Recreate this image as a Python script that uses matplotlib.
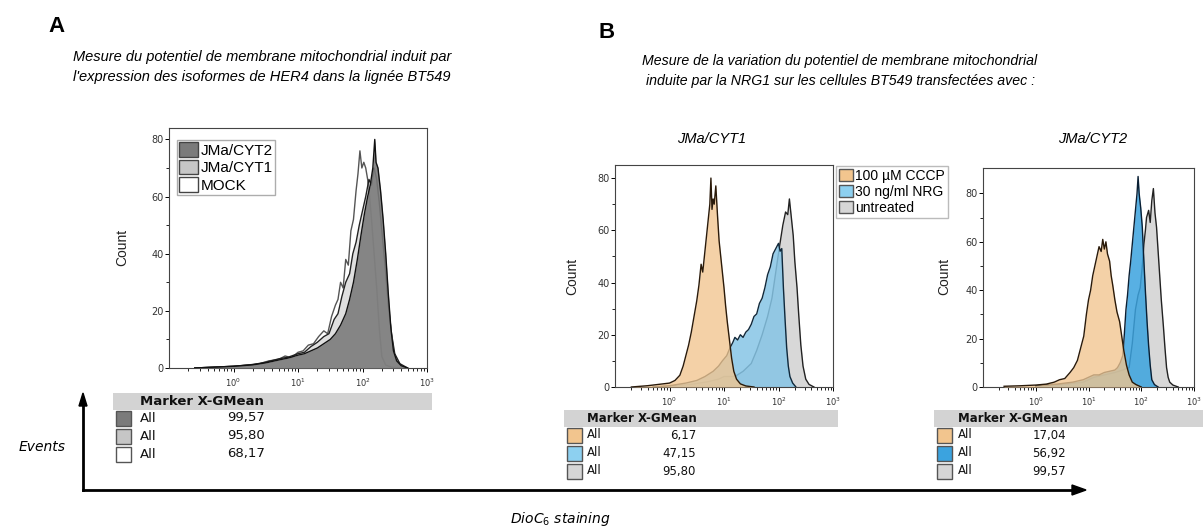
import numpy as np
import matplotlib.pyplot as plt
from matplotlib.patches import Patch, Rectangle
from matplotlib.ticker import LogLocator, NullFormatter

W, H = 1203, 530

# ---- panel A : log10(DioC6) positions and counts ----
mock_lx = [-0.6, -0.3, 0.0, 0.2, 0.4, 0.55, 0.7, 0.8, 0.9, 1.0, 1.08, 1.16, 1.24, 1.32, 1.4,
           1.46, 1.52, 1.58, 1.62, 1.66, 1.7, 1.74, 1.78, 1.82, 1.86, 1.9, 1.93, 1.96, 1.99, 2.02,
           2.05, 2.08, 2.11, 2.14, 2.18, 2.22, 2.26, 2.3, 2.36, 2.45, 2.6]
mock_n = [0, 0.3, 0.6, 1.0, 1.5, 2.5, 3.0, 4.2, 3.6, 5.5, 6.0, 8.0, 8.5, 11, 13,
          12, 18, 22, 24, 30, 28, 38, 36, 48, 52, 62, 68, 76, 70, 72,
          70, 66, 60, 52, 40, 28, 14, 4, 1, 0.3, 0]
cyt1_lx = [-0.6, -0.3, 0.0, 0.3, 0.5, 0.7, 0.85, 1.0, 1.1, 1.2, 1.3, 1.4, 1.48, 1.56, 1.62,
           1.68, 1.74, 1.8, 1.85, 1.9, 1.95, 2.0, 2.05, 2.1, 2.14, 2.18, 2.22, 2.26, 2.3, 2.35,
           2.4, 2.45, 2.5, 2.58, 2.7]
cyt1_n = [0, 0.3, 0.6, 1.2, 2.0, 3.2, 3.8, 5.0, 5.5, 7.5, 9, 11, 12, 17, 19,
          25, 30, 33, 40, 44, 50, 55, 60, 66, 64, 70, 66, 58, 48, 36,
          22, 12, 5, 1.5, 0]
cyt2_lx = [-0.6, -0.3, 0.0, 0.3, 0.5, 0.7, 0.85, 1.0, 1.1, 1.2, 1.3, 1.4, 1.5, 1.58, 1.66,
           1.74, 1.8, 1.86, 1.92, 1.98, 2.03, 2.08, 2.12, 2.16, 2.19, 2.21, 2.24, 2.28, 2.32, 2.36,
           2.4, 2.44, 2.48, 2.53, 2.6, 2.7]
cyt2_n = [0, 0.3, 0.6, 1.1, 1.8, 2.8, 3.5, 4.5, 5.0, 6.0, 7.0, 8.5, 10, 12, 15,
          19, 24, 30, 38, 47, 54, 60, 64, 70, 80, 72, 70, 62, 52, 40,
          26, 14, 6, 2.5, 0.8, 0]
labels_A = ['JMa/CYT2', 'JMa/CYT1', 'MOCK']
gmean_A = [99.57, 95.80, 68.17]

# ---- panel B, JMa/CYT1 ----
b1_cccp_lx = [-0.7, -0.4, -0.2, 0.0, 0.1, 0.19, 0.25, 0.3, 0.35, 0.4, 0.45, 0.5, 0.54, 0.58, 0.61,
              0.65, 0.68, 0.71, 0.74, 0.76, 0.78, 0.8, 0.82, 0.85, 0.88, 0.91, 0.94, 0.97, 1.0, 1.03,
              1.06, 1.1, 1.14, 1.18, 1.23, 1.3, 1.4, 1.55]
b1_cccp_n = [0, 0.5, 1.0, 1.5, 2.5, 4.5, 8, 12, 16, 21, 27, 33, 39, 47, 44,
             52, 58, 64, 70, 80, 68, 72, 70, 77, 66, 56, 50, 44, 38, 31,
             25, 18, 11, 6, 3, 1.2, 0.4, 0]
b1_nrg_lx = [-0.3, 0.0, 0.3, 0.5, 0.65, 0.8, 0.9, 0.97, 1.05, 1.11, 1.16, 1.2, 1.25, 1.3, 1.35,
             1.4, 1.45, 1.5, 1.55, 1.6, 1.65, 1.7, 1.75, 1.8, 1.85, 1.9, 1.95, 2.0, 2.03, 2.06,
             2.09, 2.12, 2.15, 2.18, 2.21, 2.26, 2.32]
b1_nrg_n = [0, 0.5, 1.5, 2.5, 4, 6, 8, 10, 12, 15, 17, 19, 18, 20, 19,
            21, 22, 24, 27, 28, 32, 34, 38, 43, 46, 51, 53, 55, 52, 53,
            38, 26, 15, 8, 4, 1.5, 0]
b1_unt_lx = [-0.3, 0.0, 0.4, 0.7, 0.9, 1.0, 1.2, 1.35, 1.5, 1.6, 1.7, 1.8, 1.88, 1.95, 2.02,
             2.08, 2.13, 2.17, 2.2, 2.23, 2.27, 2.3, 2.34, 2.37, 2.41, 2.45, 2.5, 2.56, 2.65]
b1_unt_n = [0, 0.3, 1, 2, 3, 4, 4, 6, 9, 14, 20, 27, 34, 44, 54,
            62, 67, 66, 72, 66, 58, 48, 38, 28, 16, 8, 3, 1, 0]
gmean_B1 = [6.17, 47.15, 95.80]

# ---- panel B, JMa/CYT2 ----
b2_cccp_lx = [-0.6, -0.3, 0.0, 0.2, 0.35, 0.45, 0.55, 0.65, 0.72, 0.79, 0.85, 0.91, 0.96, 1.0, 1.04,
              1.08, 1.12, 1.16, 1.2, 1.24, 1.27, 1.3, 1.33, 1.36, 1.4, 1.43, 1.46, 1.5, 1.54, 1.59,
              1.63, 1.67, 1.72, 1.77, 1.83, 1.9, 2.0]
b2_cccp_n = [0.3, 0.5, 0.8, 1.2, 2, 3, 3.5, 6, 8, 11, 16, 21, 30, 36, 40,
             46, 50, 54, 58, 56, 61, 57, 60, 55, 52, 46, 42, 36, 31, 27,
             21, 15, 9, 5, 2, 1, 0]
b2_nrg_lx = [0.0, 0.4, 0.7, 0.9, 1.0, 1.1, 1.2, 1.3, 1.4, 1.5, 1.55, 1.6, 1.65, 1.68, 1.71,
             1.74, 1.77, 1.8, 1.83, 1.86, 1.89, 1.92, 1.94, 1.96, 1.99, 2.02, 2.05, 2.08, 2.11, 2.14,
             2.17, 2.2, 2.25, 2.32]
b2_nrg_n = [0.5, 1.2, 2, 3, 4, 5, 5, 6, 6.5, 7, 8, 10, 13, 22, 32,
            38, 46, 52, 59, 66, 73, 80, 87, 80, 74, 66, 52, 39, 27, 17,
            9, 3, 1, 0]
b2_unt_lx = [0.0, 0.5, 0.9, 1.1, 1.3, 1.5, 1.65, 1.77, 1.83, 1.89, 1.94, 1.98, 2.02, 2.05, 2.08,
             2.1, 2.14, 2.17, 2.2, 2.23, 2.26, 2.29, 2.32, 2.35, 2.38, 2.42, 2.45, 2.48, 2.51, 2.54,
             2.6, 2.7]
b2_unt_n = [0.3, 1, 2, 4, 5, 6, 7, 8, 18, 32, 38, 41, 50, 59, 65,
            70, 73, 68, 77, 82, 72, 66, 56, 46, 36, 25, 16, 8, 4, 2,
            0.8, 0]
gmean_B2 = [17.04, 56.92, 99.57]
labels_B = ['100 µM CCCP', '30 ng/ml NRG', 'untreated']

c_dark, c_light = '#7b7b7b', '#c6c6c6'
c_or, c_bl1, c_bl2, c_gr = '#f2c58e', '#86c5e6', '#3ba3df', '#d6d6d6'


def fx(px):
    return px / W


def fy(py):
    return 1 - py / H


def hist(ax, lx, n, fc, ec, alpha=1.0, z=1, lw=1.0):
    x = 10 ** np.array(lx)
    ax.fill_between(x, n, color=fc, alpha=alpha, lw=0, zorder=z)
    ax.plot(x, n, color=ec, lw=lw, zorder=z + 0.1)


def style(ax, ymax):
    ax.set_xscale('log')
    ax.set_xlim(10 ** -1, 10 ** 3)
    ax.set_ylim(0, ymax)
    ax.set_yticks([0, 20, 40, 60, 80])
    ax.set_yticks([10, 30, 50, 70], minor=True)
    ax.set_xticks([1, 10, 100, 1000])
    ax.set_xticklabels([r'$10^0$', r'$10^1$', r'$10^2$', r'$10^3$'], fontsize=6, color='#333')
    ax.xaxis.set_minor_locator(LogLocator(base=10, subs=np.arange(2, 10)))
    ax.xaxis.set_minor_formatter(NullFormatter())
    ax.tick_params(axis='y', labelsize=7, labelcolor='#333', length=3, width=0.7, pad=1)
    ax.tick_params(axis='y', which='minor', length=2, width=0.6)
    ax.tick_params(axis='x', length=3, width=0.7, pad=3)
    ax.tick_params(axis='x', which='minor', length=2, width=0.6)
    for s in ax.spines.values():
        s.set_linewidth(0.8)
        s.set_color('#444')


def table(x0, x1, ytop, colors, values, xall, xval, fs, hfs):
    fig.add_artist(Rectangle((fx(x0), fy(ytop + 17)), fx(x1 - x0), 17 / H,
                             transform=fig.transFigure, color='#d3d3d3', lw=0))
    fig.text(fx(xall), fy(ytop + 8.5), 'Marker X-GMean', fontsize=hfs, fontweight='bold',
             va='center', ha='left', color='#111')
    for i, (c, v) in enumerate(zip(colors, values)):
        yc = ytop + 25 + i * 18
        fig.add_artist(Rectangle((fx(x0 + 3), fy(yc + 8)), 15 / W, 15 / H,
                                 transform=fig.transFigure, fc=c, ec='#555', lw=1))
        fig.text(fx(xall), fy(yc), 'All', fontsize=fs, va='center', ha='left', color='#111')
        fig.text(fx(xval), fy(yc), f'{v:.2f}'.replace('.', ','), fontsize=fs,
                 va='center', ha='right', color='#111')


fig = plt.figure(figsize=(W / 100, H / 100), dpi=100)

# panel A
axA = fig.add_axes([fx(169), fy(368), fx(427 - 169), (368 - 128) / H])
hist(axA, mock_lx, mock_n, 'white', '#555555', z=1)
hist(axA, cyt1_lx, cyt1_n, c_light, '#222222', alpha=0.55, z=2)
hist(axA, cyt2_lx, cyt2_n, c_dark, '#111111', alpha=0.9, z=3)
style(axA, 84)
fig.legend([Patch(fc=c_dark, ec='#444'), Patch(fc=c_light, ec='#444'), Patch(fc='white', ec='#444')],
           labels_A, loc='upper left', bbox_to_anchor=(fx(177), fy(140)),
           frameon=True, fancybox=False, edgecolor='#999', handlelength=1.2, handleheight=1.1,
           handletextpad=0.2, labelspacing=0.12, borderpad=0.15, borderaxespad=0,
           prop={'family': 'Liberation Sans', 'size': 11})

# panel B1
axB1 = fig.add_axes([fx(615), fy(387), fx(833 - 615), (387 - 165) / H])
hist(axB1, b1_unt_lx, b1_unt_n, c_gr, '#222222', alpha=0.95, z=1)
hist(axB1, b1_nrg_lx, b1_nrg_n, c_bl1, '#10283a', alpha=0.85, z=2)
hist(axB1, b1_cccp_lx, b1_cccp_n, c_or, '#2a1a0a', alpha=0.78, z=3)
style(axB1, 85)

# panel B2
axB2 = fig.add_axes([fx(983), fy(387), fx(1194 - 983), (387 - 168) / H])
hist(axB2, b2_unt_lx, b2_unt_n, c_gr, '#222222', alpha=0.95, z=1)
hist(axB2, b2_nrg_lx, b2_nrg_n, c_bl2, '#0a1f33', alpha=0.85, z=2)
hist(axB2, b2_cccp_lx, b2_cccp_n, c_or, '#2a1a0a', alpha=0.78, z=3)
style(axB2, 90.5)

fig.legend([Patch(fc=c_or, ec='#555'), Patch(fc='#8dd0f0', ec='#555'), Patch(fc=c_gr, ec='#555')],
           labels_B, loc='upper left', bbox_to_anchor=(fx(836), fy(166)),
           frameon=True, fancybox=False, edgecolor='#aaa', handlelength=1.0, handleheight=1.0,
           handletextpad=0.2, labelspacing=0.15, borderpad=0.2, borderaxespad=0,
           prop={'family': 'Liberation Sans', 'size': 10})

# y labels
for xp, yp in [(122, 247), (572, 276), (944, 276)]:
    fig.text(fx(xp), fy(yp), 'Count', rotation=90, ha='center', va='center',
             fontsize=10, family='Liberation Sans', color='#222')

# titles
fig.text(fx(56), fy(26), 'A', fontsize=16, fontweight='bold', ha='center', va='center',
         family='Liberation Sans')
fig.text(fx(607), fy(32), 'B', fontsize=16, fontweight='bold', ha='center', va='center',
         family='Liberation Sans')
fig.text(fx(73), fy(57), 'Mesure du potentiel de membrane mitochondrial induit par',
         fontsize=10.5, style='italic', ha='left', va='center', family='Liberation Sans')
fig.text(fx(73), fy(77), "l'expression des isoformes de HER4 dans la lignée BT549",
         fontsize=10.5, style='italic', ha='left', va='center', family='Liberation Sans')
fig.text(fx(840), fy(61), 'Mesure de la variation du potentiel de membrane mitochondrial',
         fontsize=10.2, style='italic', ha='center', va='center', family='Liberation Sans')
fig.text(fx(840), fy(81), 'induite par la NRG1 sur les cellules BT549 transfectées avec :',
         fontsize=10.2, style='italic', ha='center', va='center', family='Liberation Sans')
fig.text(fx(712), fy(139), 'JMa/CYT1', fontsize=10.5, style='italic', ha='center', va='center',
         family='Liberation Sans')
fig.text(fx(1093), fy(139), 'JMa/CYT2', fontsize=10.5, style='italic', ha='center', va='center',
         family='Liberation Sans')

# tables
table(113, 432, 393, [c_dark, c_light, 'white'], gmean_A, 140, 265, 9.5, 9.5)
table(564, 838, 410, [c_or, '#8dd0f0', c_gr], gmean_B1, 587, 696, 8.5, 8.5)
table(934, 1203, 410, [c_or, c_bl2, c_gr], gmean_B2, 958, 1066, 8.5, 8.5)

# axes arrows
fig.add_artist(plt.Line2D([fx(83), fx(1075)], [fy(490), fy(490)], transform=fig.transFigure,
                          color='black', lw=2))
fig.add_artist(plt.Line2D([fx(83), fx(83)], [fy(490), fy(405)], transform=fig.transFigure,
                          color='black', lw=2))
fig.patches.append(plt.Polygon([[fx(1072), fy(485)], [fx(1086), fy(490)], [fx(1072), fy(495)]],
                               closed=True, transform=fig.transFigure, color='black'))
fig.patches.append(plt.Polygon([[fx(79), fy(406)], [fx(83), fy(393)], [fx(87), fy(406)]],
                               closed=True, transform=fig.transFigure, color='black'))
fig.text(fx(42), fy(447), 'Events', fontsize=10, style='italic', ha='center', va='center')
fig.text(fx(560), fy(519), 'DioC$_6$ staining', fontsize=10, style='italic', ha='center', va='center')

fig.savefig('out.png', dpi=100)
